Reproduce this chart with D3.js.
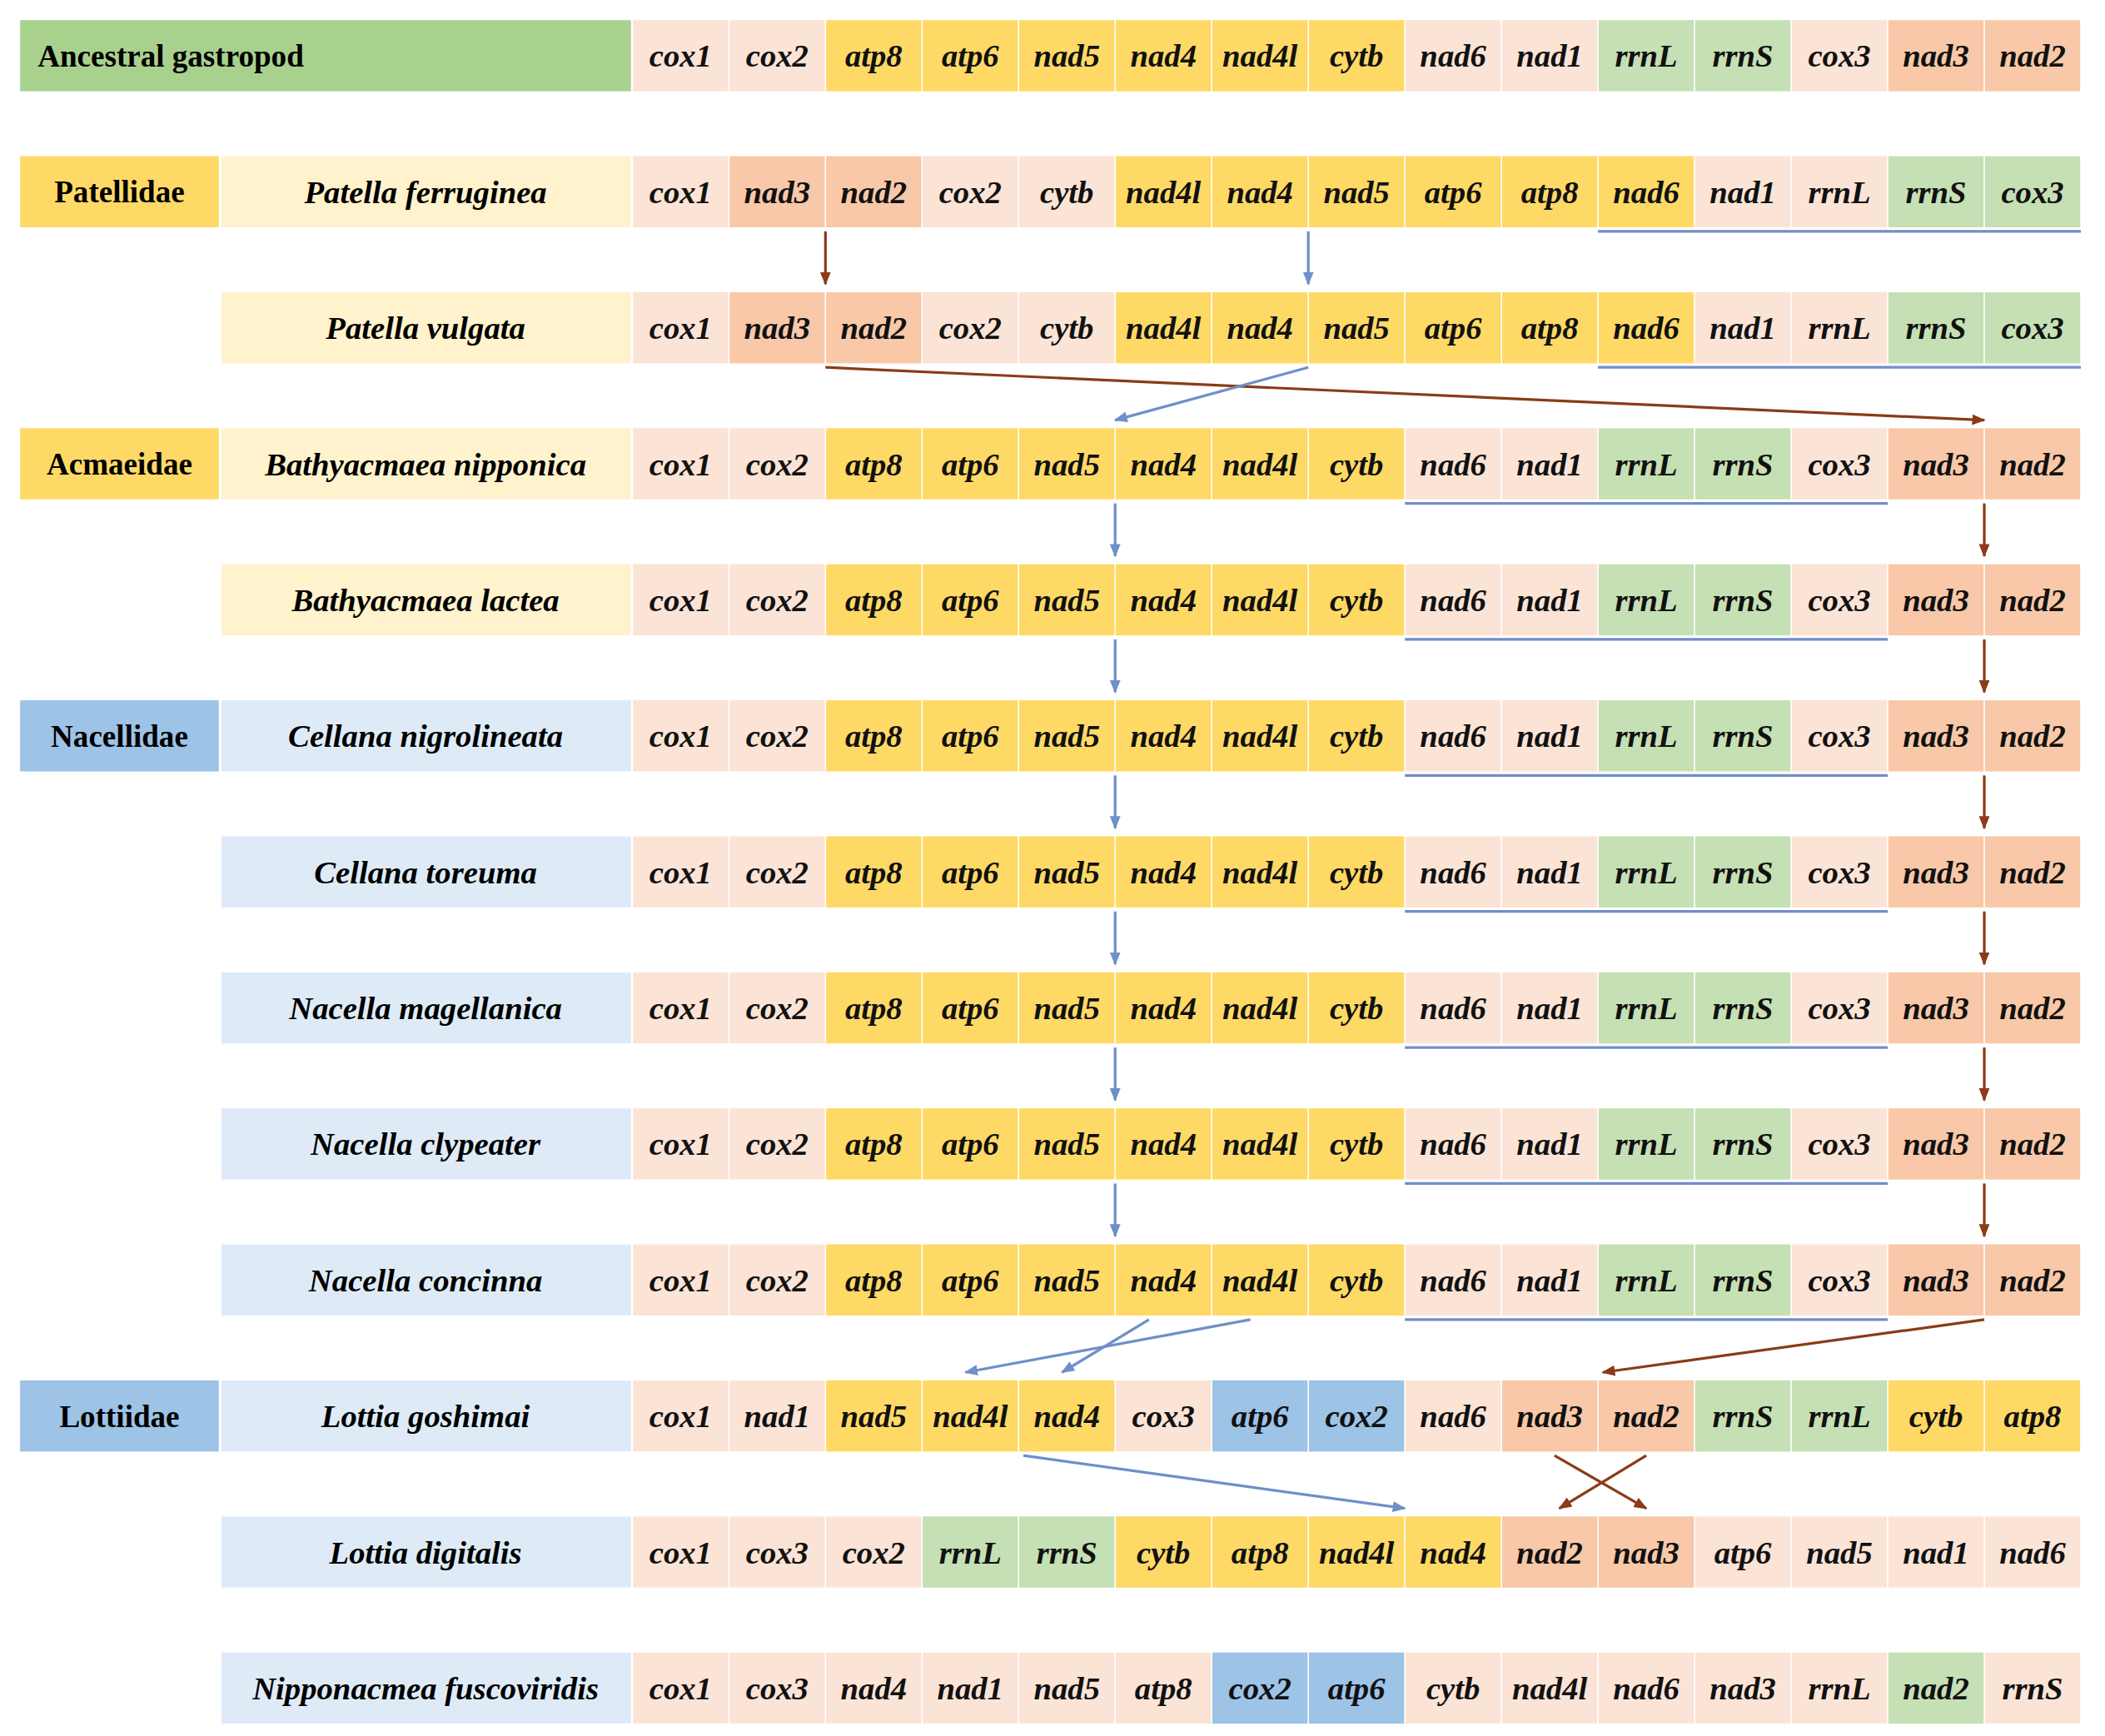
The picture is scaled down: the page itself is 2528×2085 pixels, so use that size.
<!DOCTYPE html>
<html><head><meta charset="utf-8">
<script src="https://cdn.jsdelivr.net/npm/d3@7"></script>
<style>body{margin:0;background:#fff}</style>
</head><body>
<svg id="chart"></svg>
<script>
// gene orders per row
const families = [
  {name: "Patellidae", row: 1, color: "#ffd966"},
  {name: "Acmaeidae", row: 3, color: "#ffd966"},
  {name: "Nacellidae", row: 5, color: "#9dc3e6"},
  {name: "Lottiidae", row: 10, color: "#9dc3e6"}
];
const species = ["Ancestral gastropod", "Patella ferruginea", "Patella vulgata", "Bathyacmaea nipponica",
  "Bathyacmaea lactea", "Cellana nigrolineata", "Cellana toreuma", "Nacella magellanica",
  "Nacella clypeater", "Nacella concinna", "Lottia goshimai", "Lottia digitalis", "Nipponacmea fuscoviridis"];
const speciesBg = ["#a9d18e", "#fff2cc", "#fff2cc", "#fff2cc", "#fff2cc", "#deebf7", "#deebf7", "#deebf7",
  "#deebf7", "#deebf7", "#deebf7", "#deebf7", "#deebf7"];
const standard = ["cox1","cox2","atp8","atp6","nad5","nad4","nad4l","cytb","nad6","nad1","rrnL","rrnS","cox3","nad3","nad2"];
const patella = ["cox1","nad3","nad2","cox2","cytb","nad4l","nad4","nad5","atp6","atp8","nad6","nad1","rrnL","rrnS","cox3"];
const geneOrders = [standard, patella, patella, standard, standard, standard, standard, standard, standard, standard,
  ["cox1","nad1","nad5","nad4l","nad4","cox3","atp6","cox2","nad6","nad3","nad2","rrnS","rrnL","cytb","atp8"],
  ["cox1","cox3","cox2","rrnL","rrnS","cytb","atp8","nad4l","nad4","nad2","nad3","atp6","nad5","nad1","nad6"],
  ["cox1","cox3","nad4","nad1","nad5","atp8","cox2","atp6","cytb","nad4l","nad6","nad3","rrnL","nad2","rrnS"]];
// colour class per cell: p pink, s salmon, y yellow, g green, b blue
const stdC = "ppyyyyyyppggpss", patC = "pssppyyyyyyppggp";
const cellClasses = [stdC, patC.slice(0,15), patC.slice(0,15), stdC, stdC, stdC, stdC, stdC, stdC, stdC,
  "ppyyypbbpssggyy", "pppggyyyysspppp", "ppppppbbpppppgpg".slice(0,15)];
const palette = {p: "#fbe3d6", s: "#f8c8a8", y: "#ffd966", g: "#c5e0b4", b: "#9dc3e6"};
// underlines: row, first col, last col
const underlines = [[1,10,14],[2,10,14],[3,8,12],[4,8,12],[5,8,12],[6,8,12],[7,8,12],[8,8,12],[9,8,12]];
// arrows: from [colPos, row(bottom)], to [colPos, row(top)], colour
const arrows = [
  {c1: 2, r1: 1, c2: 2, r2: 2, k: "br"}, {c1: 7, r1: 1, c2: 7, r2: 2, k: "bl"},
  {c1: 2, r1: 2, c2: 14, r2: 3, k: "br"}, {c1: 7, r1: 2, c2: 5, r2: 3, k: "bl"},
  ...[3,4,5,6,7,8].flatMap(r => [{c1: 5, r1: r, c2: 5, r2: r + 1, k: "bl"}, {c1: 14, r1: r, c2: 14, r2: r + 1, k: "br"}]),
  {c1: 6.4, r1: 9, c2: 3.45, r2: 10, k: "bl"}, {c1: 5.35, r1: 9, c2: 4.45, r2: 10, k: "bl"},
  {c1: 14, r1: 9, c2: 10.05, r2: 10, k: "br"},
  {c1: 4.05, r1: 10, c2: 8, r2: 11, k: "bl"},
  {c1: 9.55, r1: 10, c2: 10.5, r2: 11, k: "br"}, {c1: 10.5, r1: 10, c2: 9.6, r2: 11, k: "br"}
];
const arrowColor = {br: "#8b3b16", bl: "#6f8fc8"};

const W = 2528, H = 2085, k = 2528 / 1568;
const svg = d3.select("#chart").attr("width", W).attr("height", H)
  .attr("viewBox", `0 0 1568 ${H / k}`);
const x = d3.scaleLinear().domain([0, 15]).range([471, 1550]);
const y = d3.scaleLinear().domain([0, 12]).range([15, 1231]);
const rowH = 53, font = "'Liberation Serif', 'Times New Roman', serif";

const defs = svg.append("defs");
Object.entries(arrowColor).forEach(([key, col]) => {
  defs.append("marker").attr("id", "m-" + key).attr("viewBox", "0 0 10 10").attr("refX", 9).attr("refY", 5)
    .attr("markerWidth", 5).attr("markerHeight", 5).attr("orient", "auto")
    .append("path").attr("d", "M0,1 L10,5 L0,9 Z").attr("fill", col);
});

// family boxes
families.forEach(f => {
  svg.append("rect").attr("x", 15).attr("y", y(f.row)).attr("width", 148).attr("height", rowH).attr("fill", f.color);
  svg.append("text").attr("x", 89).attr("y", y(f.row) + rowH / 2).attr("dy", "0.35em")
    .attr("text-anchor", "middle").attr("font-family", font).attr("font-weight", "bold").attr("font-size", 23)
    .text(f.name);
});

species.forEach((sp, i) => {
  const x0 = i === 0 ? 15 : 165;
  svg.append("rect").attr("x", x0).attr("y", y(i)).attr("width", 470 - x0).attr("height", rowH).attr("fill", speciesBg[i]);
  svg.append("text").attr("x", i === 0 ? 28 : 317).attr("y", y(i) + rowH / 2).attr("dy", "0.35em")
    .attr("text-anchor", i === 0 ? "start" : "middle").attr("font-family", font).attr("font-weight", "bold")
    .attr("font-style", i === 0 ? "normal" : "italic").attr("font-size", i === 0 ? 23 : 24).text(sp);
  geneOrders[i].forEach((g, j) => {
    svg.append("rect").attr("x", x(j) + 0.5).attr("y", y(i)).attr("width", x(1) - x(0) - 1).attr("height", rowH)
      .attr("fill", palette[cellClasses[i][j]]);
    svg.append("text").attr("x", (x(j) + x(j + 1)) / 2).attr("y", y(i) + rowH / 2).attr("dy", "0.35em")
      .attr("text-anchor", "middle").attr("font-family", font).attr("font-weight", "bold").attr("font-style", "italic")
      .attr("font-size", 24).attr("fill", "#111").text(g);
  });
});

underlines.forEach(([r, a, b]) => {
  svg.append("line").attr("x1", x(a)).attr("x2", x(b + 1)).attr("y1", y(r) + rowH + 3).attr("y2", y(r) + rowH + 3)
    .attr("stroke", "#6f8fc8").attr("stroke-width", 2);
});

arrows.forEach(a => {
  svg.append("line").attr("x1", x(a.c1)).attr("y1", y(a.r1) + rowH + 3)
    .attr("x2", x(a.c2)).attr("y2", y(a.r2) - 6)
    .attr("stroke", arrowColor[a.k]).attr("stroke-width", 2).attr("marker-end", `url(#m-${a.k})`);
});
</script>
</body></html>
